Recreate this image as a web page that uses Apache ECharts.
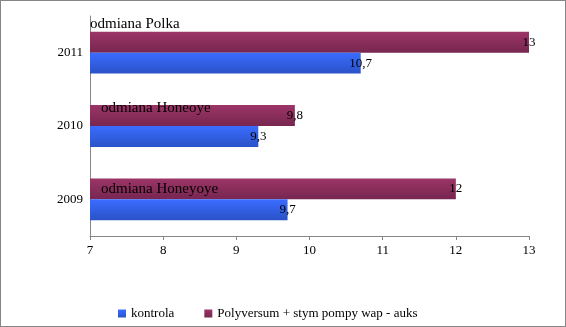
<!DOCTYPE html>
<html>
<head>
<meta charset="utf-8">
<script src="https://cdn.jsdelivr.net/npm/echarts@6/dist/echarts.min.js"></script>
<style>
  html, body { margin: 0; padding: 0; background: #fff; }
  #chart { width: 566px; height: 327px; box-sizing: border-box; border: 1px solid #868686; }
</style>
</head>
<body>
<div id="chart"></div>
<script>
var years = ["2009", "2010", "2011"];
var kontrola = [9.7, 9.3, 10.7];
var polyversum = [12, 9.8, 13];
var seriesNames = ["kontrola", "Polyversum + stym pompy wap - auks"];
var varieties = ["odmiana Honeyoye", "odmiana Honeoye", "odmiana Polka"];

var chart = echarts.init(document.getElementById("chart"));
var serif = "'Liberation Serif', 'DejaVu Serif', serif";

function grad(top, bottom) {
  return new echarts.graphic.LinearGradient(0, 0, 0, 1, [
    { offset: 0, color: top },
    { offset: 1, color: bottom }
  ]);
}

var valueLabel = {
  show: true,
  position: ["100%", "50%"],
  align: "center",
  verticalAlign: "middle",
  color: "#000",
  fontFamily: serif,
  fontSize: 13,
  formatter: function (p) {
    return String(p.value).replace(".", ",");
  }
};

// first series is drawn on top in a horizontal bar, so the maroon one goes first
var option = {
  animation: false,
  textStyle: { fontFamily: serif },
  grid: { left: 89, right: 36, top: 15, bottom: 90 },
  legend: {
    left: 112,
    top: 301,
    itemWidth: 8,
    itemHeight: 8,
    itemGap: 30,
    icon: "rect",
    textStyle: { fontFamily: serif, fontSize: 13, color: "#000" },
    data: seriesNames
  },
  xAxis: {
    type: "value",
    min: 7,
    max: 13,
    interval: 1,
    splitLine: { show: false },
    axisLine: { show: true, lineStyle: { color: "#868686" } },
    axisTick: { show: true, length: 4, lineStyle: { color: "#868686" } },
    axisLabel: { color: "#000", fontFamily: serif, fontSize: 13, margin: 8 }
  },
  yAxis: {
    type: "category",
    data: years,
    axisLine: { lineStyle: { color: "#868686" } },
    axisTick: { length: 4, lineStyle: { color: "#868686" } },
    axisLabel: { color: "#000", fontFamily: serif, fontSize: 13, margin: 7 }
  },
  series: [
    {
      name: seriesNames[1],
      type: "bar",
      data: polyversum,
      barCategoryGap: "43%",
      barGap: "0%",
      itemStyle: { color: grad("#9c3567", "#772650") },
      label: valueLabel
    },
    {
      name: seriesNames[0],
      type: "bar",
      data: kontrola,
      barCategoryGap: "43%",
      barGap: "0%",
      itemStyle: { color: grad("#3a6cff", "#2a52c8") },
      label: valueLabel
    }
  ],
  graphic: [
    { type: "text", z: 100, left: 89, top: 16, style: { text: varieties[2], font: "15px " + serif, fill: "#000" } },
    { type: "text", z: 100, left: 100, top: 100, style: { text: varieties[1], font: "15px " + serif, fill: "#000" } },
    { type: "text", z: 100, left: 100, top: 181, style: { text: varieties[0], font: "15px " + serif, fill: "#000" } }
  ]
};

chart.setOption(option);
</script>
</body>
</html>
